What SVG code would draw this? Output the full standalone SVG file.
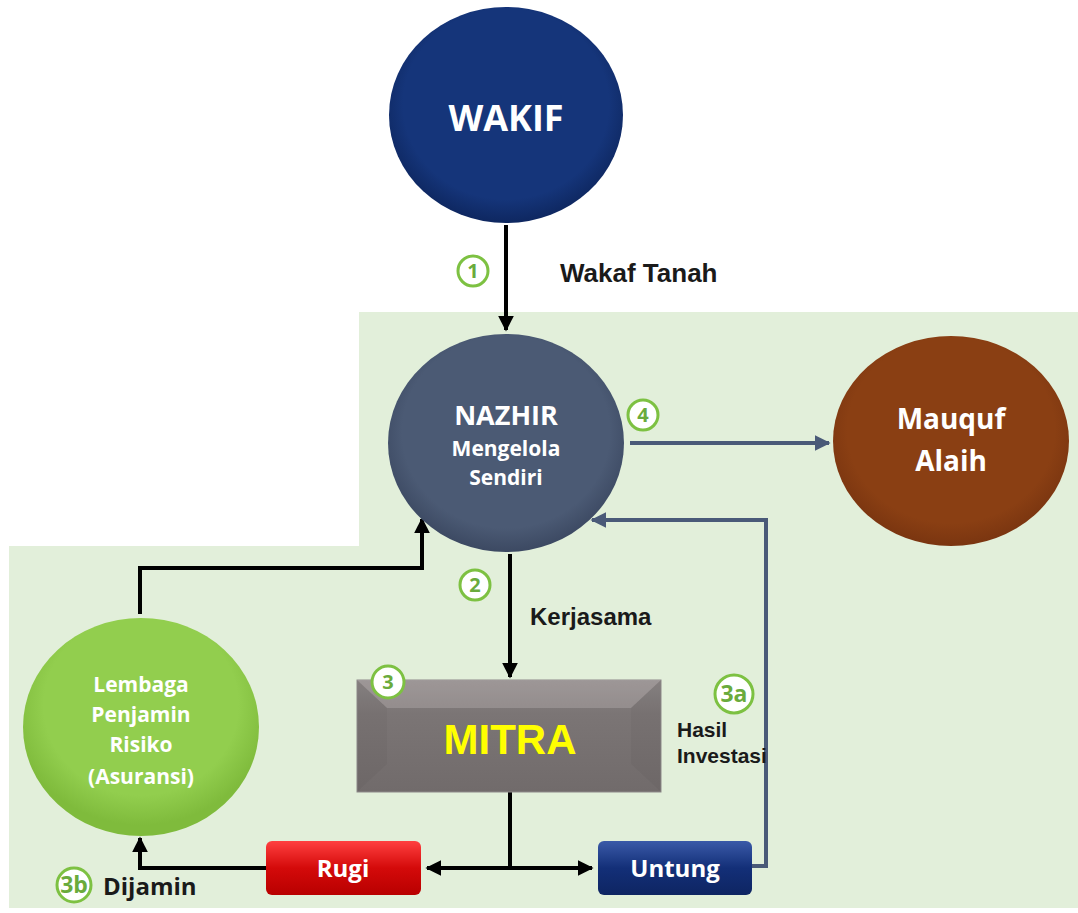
<svg xmlns="http://www.w3.org/2000/svg" width="1078" height="913" viewBox="0 0 1078 913">
<style>
.lbl{font-family:"Liberation Sans",Arial,sans-serif;font-weight:bold;fill:#1a1a1a}
.ct{font-family:"Open Sans","Noto Sans",sans-serif;font-weight:bold;fill:#fff;text-anchor:middle}
.num circle{fill:#fff;stroke:#7dc142;stroke-width:3}
.num text{font-family:"Open Sans","Noto Sans",sans-serif;font-weight:bold;fill:#6aab3c;text-anchor:middle;font-size:20px}
.num text.big{font-size:23px}
.blk{stroke:#000;stroke-width:4;fill:none}
.sl{stroke:#4a5a78;stroke-width:4;fill:none}
</style>
<defs>
<radialGradient id="gW" cx="50%" cy="45%" r="55%"><stop offset="0.8" stop-color="#15357a"/><stop offset="1" stop-color="#0e2760"/></radialGradient>
<radialGradient id="gN" cx="50%" cy="45%" r="55%"><stop offset="0.8" stop-color="#4b5a74"/><stop offset="1" stop-color="#3c4962"/></radialGradient>
<radialGradient id="gM" cx="50%" cy="45%" r="55%"><stop offset="0.8" stop-color="#8a3f13"/><stop offset="1" stop-color="#7a3510"/></radialGradient>
<radialGradient id="gL" cx="50%" cy="40%" r="55%"><stop offset="0.75" stop-color="#92ce4e"/><stop offset="1" stop-color="#7fbb3c"/></radialGradient>
<linearGradient id="gMi" x1="0" y1="0" x2="0" y2="1"><stop offset="0" stop-color="#8a8484"/><stop offset="0.3" stop-color="#7b7575"/><stop offset="1" stop-color="#716b6b"/></linearGradient>
<linearGradient id="gR" x1="0" y1="0" x2="0" y2="1"><stop offset="0" stop-color="#ff4040"/><stop offset="0.5" stop-color="#d40a0a"/><stop offset="1" stop-color="#b80000"/></linearGradient>
<linearGradient id="gU" x1="0" y1="0" x2="0" y2="1"><stop offset="0" stop-color="#3a5aa8"/><stop offset="0.5" stop-color="#132f78"/><stop offset="1" stop-color="#0e2562"/></linearGradient>
<marker id="ab" viewBox="0 0 10 10" refX="9" refY="5" markerWidth="4" markerHeight="4" orient="auto"><path d="M0,0L10,5L0,10z" fill="#000"/></marker>
<marker id="as" viewBox="0 0 10 10" refX="9" refY="5" markerWidth="4" markerHeight="4" orient="auto"><path d="M0,0L10,5L0,10z" fill="#4a5a78"/></marker>
</defs>
<rect width="1078" height="913" fill="#fff"/>
<path d="M359,312H1078V908H9V546H359Z" fill="#e2efda"/>

<g id="connectors">
<line class="blk" x1="506" y1="225" x2="506" y2="330" marker-end="url(#ab)"/>
<line class="sl" x1="630" y1="443" x2="829" y2="443" marker-end="url(#as)"/>
<line class="blk" x1="510" y1="554" x2="510" y2="677" marker-end="url(#ab)"/>
<polyline class="blk" points="140,614 140,568 422,568 422,519" marker-end="url(#ab)"/>
<polyline class="sl" points="752,866 766,866 766,520 592,520" marker-end="url(#as)"/>
<line class="blk" x1="510" y1="792" x2="510" y2="868"/>
<line class="blk" x1="510" y1="868" x2="427" y2="868" marker-end="url(#ab)"/>
<line class="blk" x1="510" y1="868" x2="592" y2="868" marker-end="url(#ab)"/>
<polyline class="blk" points="266,868 140,868 140,838" marker-end="url(#ab)"/>
</g>

<g id="wakif">
<ellipse cx="506" cy="115" rx="117" ry="108" fill="url(#gW)"/>
<text class="ct" x="506" y="131" font-size="36">WAKIF</text>
</g>
<g id="nazhir">
<ellipse cx="506" cy="443" rx="118" ry="109" fill="url(#gN)"/>
<text class="ct" x="506" y="425" font-size="27">NAZHIR</text>
<text class="ct" x="506" y="456" font-size="21">Mengelola</text>
<text class="ct" x="506" y="485" font-size="21">Sendiri</text>
</g>
<g id="mauquf">
<ellipse cx="951" cy="441" rx="118" ry="105" fill="url(#gM)"/>
<text class="ct" x="951" y="429" font-size="28">Mauquf</text>
<text class="ct" x="951" y="471" font-size="28">Alaih</text>
</g>
<g id="lembaga">
<ellipse cx="141" cy="727" rx="118" ry="109" fill="url(#gL)"/>
<text class="ct" x="141" y="692" font-size="21">Lembaga</text>
<text class="ct" x="141" y="722" font-size="21">Penjamin</text>
<text class="ct" x="141" y="752" font-size="21">Risiko</text>
<text class="ct" x="141" y="784" font-size="21">(Asuransi)</text>
</g>
<g id="mitra">
<rect x="357" y="680" width="304" height="112" fill="url(#gMi)" stroke="#8e8a8a" stroke-width="1"/>
<polygon points="357,680 661,680 631,708 387,708" fill="#d8d0d0" opacity="0.25"/>
<polygon points="357,680 387,708 387,764 357,792" fill="#000" opacity="0.03"/>
<polygon points="661,680 631,708 631,764 661,792" fill="#000" opacity="0.03"/>
<text x="510" y="754" font-family="'Liberation Sans',Arial,sans-serif" font-weight="bold" font-size="42" fill="#ffff00" text-anchor="middle">MITRA</text>
</g>
<g id="rugi">
<rect x="266" y="841" width="155" height="54" rx="6" fill="url(#gR)"/>
<text class="ct" x="343" y="877" font-size="24">Rugi</text>
</g>
<g id="untung">
<rect x="598" y="841" width="154" height="54" rx="6" fill="url(#gU)"/>
<text class="ct" x="675" y="877" font-size="24">Untung</text>
</g>

<g id="labels">
<text class="lbl" x="560" y="282" font-size="26">Wakaf Tanah</text>
<text class="lbl" x="530" y="625" font-size="24">Kerjasama</text>
<text class="lbl" x="677" y="737" font-size="21">Hasil</text>
<text class="lbl" x="677" y="763" font-size="21">Investasi</text>
<text x="103" y="895" font-family="'Open Sans','Noto Sans',sans-serif" font-weight="bold" font-size="24" fill="#1a1a1a">Dijamin</text>
</g>
<g id="numbers" class="num">
<g><circle cx="473" cy="271" r="15"/><text x="473" y="278">1</text></g>
<g><circle cx="643" cy="415" r="15"/><text x="643" y="422">4</text></g>
<g><circle cx="475" cy="585" r="15"/><text x="475" y="592">2</text></g>
<g><circle cx="388" cy="682" r="16"/><text x="388" y="689">3</text></g>
<g><circle cx="734" cy="694" r="19"/><text class="big" x="734" y="702">3a</text></g>
<g><circle cx="74" cy="885" r="17"/><text class="big" x="74" y="893">3b</text></g>
</g>
</svg>
